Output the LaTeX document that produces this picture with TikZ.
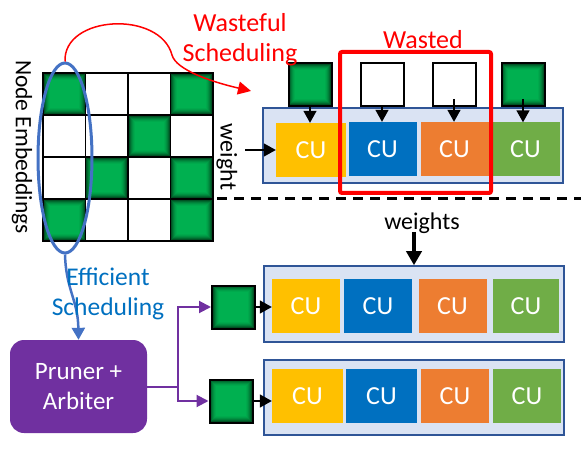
\documentclass[tikz,border=0pt]{standalone}
\usepackage{fontspec}
\setmainfont{Carlito}
\usepackage{tikz}
\usetikzlibrary{positioning}
\usetikzlibrary{shapes,arrows}
\usetikzlibrary{arrows.meta}
\usetikzlibrary{calc}

\begin{document}
\begin{tikzpicture}
    [%%%%%%%%%%%%%%%%%%%%%%%%%%%%%%
        x=1pt,y=-1pt,
        glow/.style={fill=embgreen,path picture={
            \foreach \k/\o in {0/0.75,1/0.55,2/0.38,3/0.24,4/0.13,5/0.05}
                \draw[embdark,opacity=\o,line width=1pt]
                    ($(path picture bounding box.south west)+(\k+1.3,-\k-1.3)$) rectangle
                    ($(path picture bounding box.north east)+(-\k-1.3,\k+1.3)$);
        }},
        cell/.style={rectangle,draw=black,line width=1.6pt,minimum width=42.5pt,minimum height=42pt,inner sep=0pt,fill=white},
        gcell/.style={cell,glow},
        emb/.style={rectangle,draw=black,line width=2pt,minimum size=43pt,inner sep=0pt,fill=white},
        gemb/.style={emb,glow},
        cu/.style={rectangle,minimum width=68pt,minimum height=54pt,inner sep=0pt,text=white,font=\fontsize{26}{30}\selectfont},
        bank/.style={rectangle,draw=bankline,fill=bankfill,line width=1.5pt,minimum width=300pt,minimum height=75pt,inner sep=0pt},
        lbl/.style={font=\fontsize{25}{30}\selectfont,align=center,inner sep=0pt},
        feed/.style={-{Triangle[length=12pt,width=13pt]},line width=1.5pt,black}
    ]%%%%%%%%%%%%%%%%%%%%%%%%%%%%%%
\definecolor{embgreen}{RGB}{0,176,80}
\definecolor{embdark}{RGB}{0,50,20}
\definecolor{cuyellow}{RGB}{255,192,0}
\definecolor{cublue}{RGB}{0,112,192}
\definecolor{cuorange}{RGB}{237,125,49}
\definecolor{cugreen}{RGB}{112,173,71}
\definecolor{bankfill}{RGB}{218,227,243}
\definecolor{bankline}{RGB}{47,85,151}
\definecolor{selblue}{RGB}{68,114,196}
\definecolor{effblue}{RGB}{0,112,192}
\definecolor{arbpurple}{RGB}{112,48,160}

\useasboundingbox (0,0) rectangle (581,449);

% node embeddings
\foreach \x in {1,...,4}{
    \foreach \y in {1,...,4}
        \node[cell] (c\x\y) at ({43+42.5*(\x-0.5)},{73+42*(\y-0.5)}){};
}
\foreach \x/\y in {1/1,4/1,3/2,2/3,4/3,1/4,4/4}
   \node[gcell] at ({43+42.5*(\x-0.5)},{73+42*(\y-0.5)}){};

\node[lbl,font=\fontsize{23.5}{30}\selectfont,rotate=-90] (embtxt) at (22,147) {Node Embeddings};

\node[ellipse,draw=selblue,line width=3pt,minimum width=54pt,minimum height=190pt,inner sep=0pt] (sel) at (65,158){};

% wasteful scheduling
\node[bank] (bankT) at (413,145.5){};
\node[cu,fill=cuyellow,minimum width=70pt] (cuT1) at (311,150){CU};
\node[cu,fill=cublue] (cuT2) at (382.5,149){CU};
\node[cu,fill=cuorange] (cuT3) at (454.5,149){CU};
\node[cu,fill=cugreen] (cuT4) at (525.5,149.5){CU};

\node[gemb] (eT1) at (310,84.5){};
\node[emb] (eT2) at (382,84.5){};
\node[emb] (eT3) at (454,84.5){};
\node[gemb] (eT4) at (523,84.5){};

\draw[feed] (eT1.south) -- (eT1.south |- cuT1.north);
\draw[feed] (eT2.south) -- (eT2.south |- cuT2.north);
\draw[feed] ($(eT3.south)+(0,-8)$) -- (eT3.south |- cuT3.north);
\draw[feed] ($(eT4.south)+(0,-8)$) -- (eT4.south |- cuT4.north);

\coordinate (wsrc) at (245,150);
\draw[feed] (wsrc) -- (cuT1.west);
\node[lbl,font=\fontsize{24}{30}\selectfont,rotate=-90] (wtxt) at (227,157) {weight};

\node[draw=red,line width=4pt,rounded corners=2pt,minimum width=151pt,minimum height=141pt] (waste) at (415.5,122.5){};
\node[lbl,font=\fontsize{26}{30}\selectfont,text=red] (wastetxt) at (423,40) {Wasted};

\coordinate (wtip) at (251,91);
\draw[red,line width=1.5pt,-{Triangle[length=13pt,width=13pt]}] (sel.north) .. controls (63,15) and (160,10) .. (172,55) .. controls (176,70) and (212,82) .. (wtip);
\node[lbl,font=\fontsize{26}{30}\selectfont,text=red] (wfultxt) at (240,40) {Wasteful\\Scheduling};

\coordinate (dashL) at (217,199);
\coordinate (dashR) at (581,199);
\draw[line width=3pt,dash pattern=on 10pt off 7pt] (dashL) -- (dashR);

% efficient scheduling
\node[bank,minimum height=76pt] (bankB1) at (414,304){};
\node[cu,fill=cuyellow] (cuA1) at (306,306){CU};
\node[cu,fill=cublue] (cuA2) at (378,306){CU};
\node[cu,fill=cuorange] (cuA3) at (452.5,306){CU};
\node[cu,fill=cugreen,minimum width=66pt] (cuA4) at (526,306){CU};

\node[bank] (bankB2) at (414,397.5){};
\node[cu,fill=cuyellow,minimum width=71pt] (cuB1) at (307.5,396){CU};
\node[cu,fill=cublue,minimum width=71pt] (cuB2) at (381.5,396){CU};
\node[cu,fill=cuorange] (cuB3) at (455,396){CU};
\node[cu,fill=cugreen] (cuB4) at (527,396){CU};

\node[lbl,font=\fontsize{24}{30}\selectfont] (wstxt) at (422,223) {weights};
\coordinate (wsTop) at (414,232);
\draw[-{Triangle[length=14pt,width=15pt]},line width=3.5pt] (wsTop) -- (wsTop |- bankB1.north);

\node[gemb] (gA) at (233.5,307){};
\node[gemb] (gB) at (231,401){};
\draw[feed] (gA.east) -- (cuA1.west |- gA.east);
\draw[feed] (gB.east) -- (cuB1.west |- gB.east);

\node[rectangle,rounded corners=14pt,fill=arbpurple,minimum width=137pt,minimum height=93pt,text=white,lbl] (arb) at (78.5,386.5) {Pruner +\\Arbiter};

\draw[arbpurple,line width=2pt,-{Triangle[length=12pt,width=12pt]}] (arb.east) -- ++(31,0) |- (gA.west);
\draw[arbpurple,line width=2pt,-{Triangle[length=12pt,width=12pt]}] (arb.east) -- ++(31,0) |- (gB.west);

\draw[selblue,line width=2.5pt,-{Triangle[length=12pt,width=13pt]}] (sel.south) .. controls (66,290) and (78,300) .. (arb.north);
\node[lbl,font=\fontsize{25.5}{30}\selectfont,text=effblue] (efftxt) at (108,294) {Efficient\\Scheduling};

\end{tikzpicture}
\end{document}
